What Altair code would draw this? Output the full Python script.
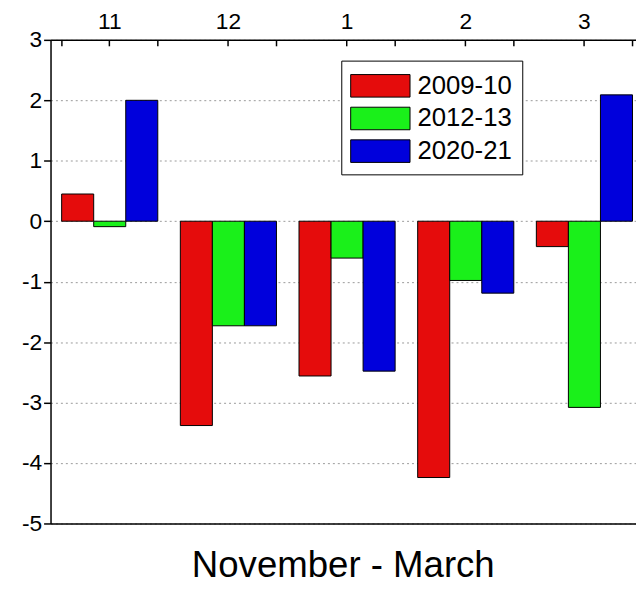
import altair as alt
import pandas as pd

months = ["11", "12", "1", "2", "3"]
seasons = ["2009-10", "2012-13", "2020-21"]
v_2009_10 = [0.45, -3.38, -2.56, -4.24, -0.42]
v_2012_13 = [-0.09, -1.73, -0.61, -0.98, -3.08]
v_2020_21 = [2.00, -1.73, -2.48, -1.19, 2.09]
colors = ["#E50C0C", "#1AF01A", "#0000DC"]
y_major = [-5, -4, -3, -2, -1, 0, 1, 2, 3]
y_half = [-4.5, -3.5, -2.5, -1.5, -0.5, 0.5, 1.5, 2.5]
title_text = "November - March"

rows = []
for s, vals in zip(seasons, [v_2009_10, v_2012_13, v_2020_21]):
    for m, v in zip(months, vals):
        rows.append({"month": m, "season": s, "value": v})
df = pd.DataFrame(rows)

W, H = 592, 489
FONT = "Liberation Sans"

xscale = alt.Scale(domain=months, paddingInner=0.19, paddingOuter=0.0617, align=0.76)
yscale = alt.Scale(domain=[-5, 3], nice=False, zero=False)

bars = alt.Chart(df).mark_bar(stroke="black", strokeWidth=1).encode(
    x=alt.X("month:N", sort=months, scale=xscale, title=None,
            axis=alt.Axis(orient="bottom", labels=False, ticks=False, domain=True,
                          domainColor="black", domainWidth=1.5, grid=False)),
    xOffset=alt.XOffset("season:N", sort=seasons,
                        scale=alt.Scale(paddingInner=0, paddingOuter=0)),
    y=alt.Y("value:Q", scale=yscale, title=None, stack=None,
            axis=alt.Axis(values=y_major, labelExpr="toString(datum.value)",
                          labelFontSize=23, labelFont=FONT, labelColor="black",
                          labelPadding=2, tickSize=7, tickWidth=1.5, tickColor="black",
                          domain=True, domainColor="black", domainWidth=1.5,
                          grid=True, gridDash=[2, 3], gridColor="#9a9a9a", gridWidth=1)),
    color=alt.Color("season:N", sort=seasons,
                    scale=alt.Scale(domain=seasons, range=colors),
                    legend=alt.Legend(orient="none", legendX=294, legendY=21, title=None,
                                      symbolType="M-2,-0.76H2V0.76H-2Z", symbolSize=900,
                                      symbolStrokeColor="black", symbolStrokeWidth=1,
                                      symbolOpacity=1, symbolOffset=14,
                                      labelFontSize=26, labelFont=FONT,
                                      labelColor="black", labelOffset=22, rowPadding=4,
                                      strokeColor="black", fillColor="white", padding=10,
                                      cornerRadius=0)),
)

top_labels = alt.Chart(df).mark_bar(opacity=0).encode(
    x=alt.X("month:N", sort=months, scale=xscale, title=None,
            axis=alt.Axis(orient="top", ticks=False, tickSize=0, domain=True,
                          domainColor="black", domainWidth=1.5, labelAngle=0,
                          labelFontSize=23, labelFont=FONT, labelColor="black",
                          labelPadding=6, grid=False)),
    y=alt.Y("value:Q", scale=yscale, title=None, stack=None,
            axis=alt.Axis(values=y_half, labels=False, domain=False, grid=False,
                          tickSize=4, tickWidth=1.5, tickColor="black")),
)

top_ticks = alt.Chart(df).mark_bar(opacity=0).encode(
    x=alt.X("month:N", sort=months, scale=xscale, title=None,
            axis=alt.Axis(orient="bottom", offset=-H, labels=False, domain=False,
                          ticks=True, tickSize=6, tickWidth=1.5, tickColor="black",
                          grid=False)),
    y=alt.Y("value:Q", scale=yscale, title=None, stack=None,
            axis=alt.Axis(orient="left", offset=-(W + 6), values=y_major + y_half,
                          labels=False, domain=False, grid=False,
                          tickSize=5, tickWidth=1.5, tickColor="black")),
)

top_minor = alt.Chart(df).mark_bar(opacity=0).encode(
    x=alt.X("month:N", sort=months, scale=xscale, title=None,
            axis=alt.Axis(orient="bottom", offset=-H, labels=False, domain=False,
                          ticks=True, tickBand="extent", tickSize=6, tickWidth=1.5,
                          tickColor="black", grid=False)),
    y=alt.Y("value:Q", scale=yscale, title=None, stack=None, axis=None),
)

chart = alt.layer(bars, top_labels, top_ticks, top_minor).resolve_axis(
    x="independent", y="independent"
).properties(
    width=W, height=H,
    title=alt.TitleParams(title_text, orient="bottom", fontSize=37, font=FONT,
                          fontWeight="normal", color="black", frame="group",
                          anchor="middle", offset=13),
    autosize=alt.AutoSizeParams(type="none"),
    padding={"left": 43, "top": 29, "right": 0, "bottom": 59},
).configure_view(stroke=None)

chart.save("out.html", embed_options={"renderer": "svg", "actions": False})
